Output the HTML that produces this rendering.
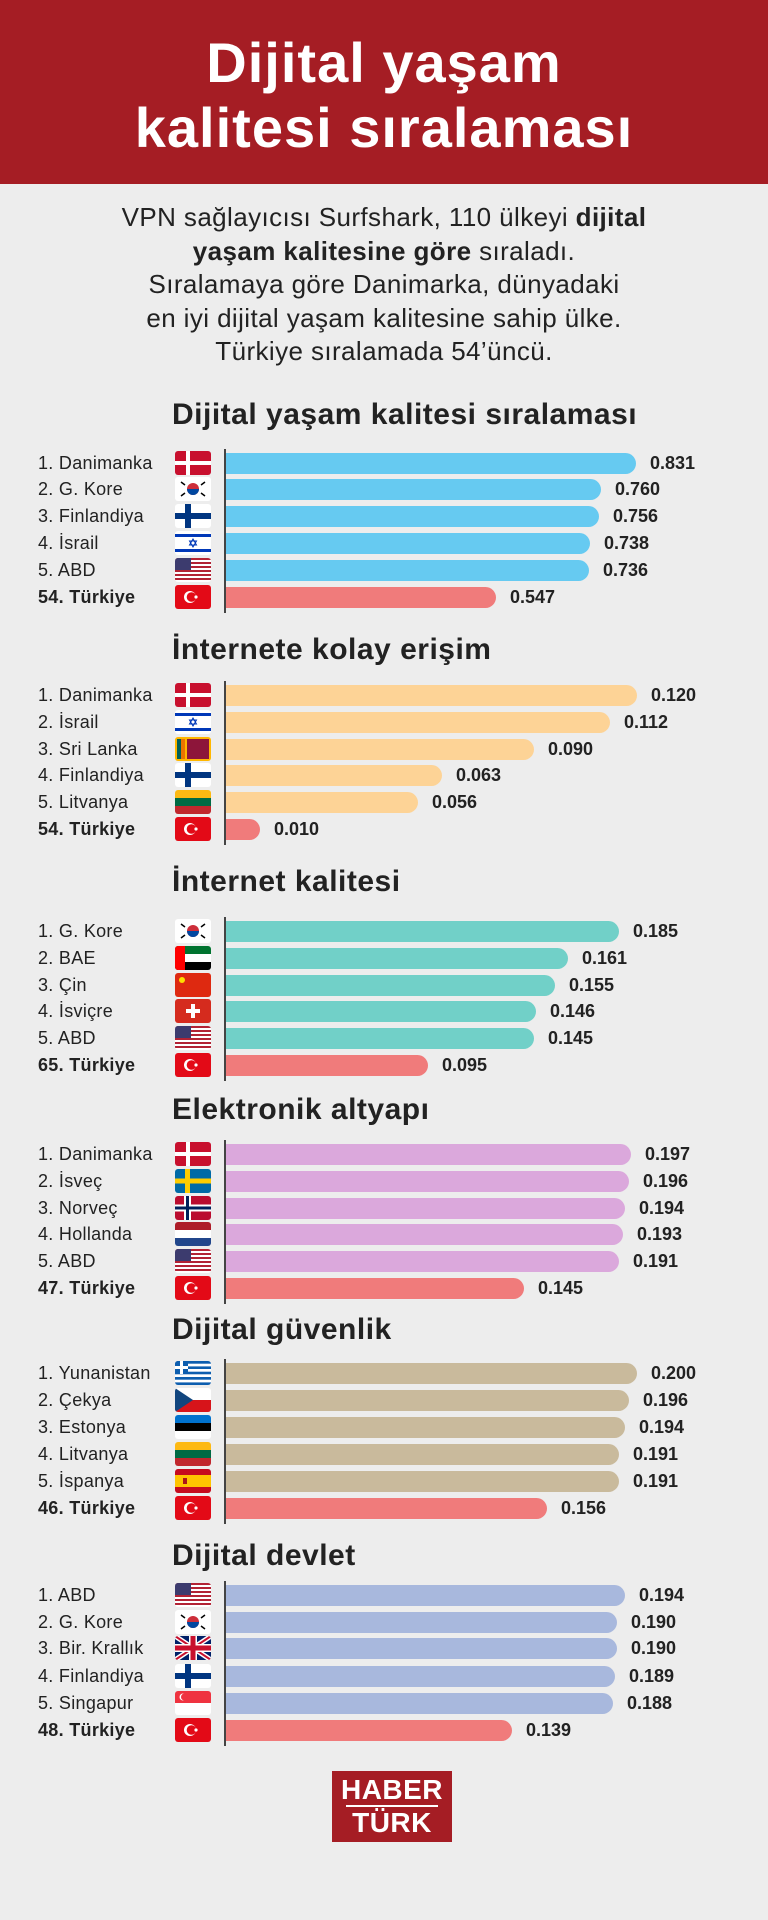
<!DOCTYPE html>
<html><head><meta charset="utf-8">
<style>
*{margin:0;padding:0;box-sizing:border-box}
body{width:768px;height:1920px;background:#ededed;font-family:"Liberation Sans",sans-serif;position:relative;overflow:hidden;color:#222}
.hdr{position:absolute;left:0;top:0;width:768px;height:184px;background:#a51d24;color:#fff;text-align:center;font-weight:bold;font-size:56px;line-height:65px;padding-top:30px;letter-spacing:1px}
.intro{position:absolute;left:0;top:201px;width:768px;text-align:center;font-size:26px;line-height:33.5px;color:#222;letter-spacing:0.4px}
.st{position:absolute;left:172px;font-size:30px;font-weight:bold;color:#222;letter-spacing:0.5px}
.lbl{position:absolute;left:38px;font-size:18px;color:#222;height:24px;line-height:24px;letter-spacing:0.3px}
.lbl.b{font-weight:bold}
.flag{position:absolute;left:175px;width:36px;height:24px;border-radius:3px;overflow:hidden}
.flag svg{display:block}
.bar{position:absolute;left:226px;height:21px;border-radius:0 11px 11px 0}
.val{position:absolute;font-size:18px;font-weight:bold;color:#222;height:24px;line-height:24px}
.axis{position:absolute;left:224px;width:2px;background:#444}
.logo{position:absolute;left:332px;top:1771px;width:120px;height:71px;background:#a51d24;color:#fff;font-weight:bold;text-align:center;font-size:28px;line-height:28px;padding-top:5px;letter-spacing:0.5px}
.logo .l{width:92px;height:2px;background:#fff;margin:1px auto 2px}
</style></head><body>
<div class="hdr">Dijital yaşam<br>kalitesi sıralaması</div>
<div class="intro">VPN sağlayıcısı Surfshark, 110 ülkeyi <b>dijital<br>yaşam kalitesine göre</b> sıraladı.<br>Sıralamaya göre Danimarka, dünyadaki<br>en iyi dijital yaşam kalitesine sahip ülke.<br>Türkiye sıralamada 54’üncü.</div>
<div id="c"></div>
<div class="logo">HABER<div class="l"></div>TÜRK</div>
<script>
const F={
dk:'<rect width="36" height="24" fill="#c8102e"/><rect x="11" width="4" height="24" fill="#fff"/><rect y="10" width="36" height="4" fill="#fff"/>',
kr:'<rect width="36" height="24" fill="#fff"/><circle cx="18" cy="12" r="6" fill="#cd2e3a"/><path d="M12 12a6 6 0 0 0 12 0z" fill="#0047a0"/><g stroke="#000" stroke-width="1.5"><path d="M6 5l4 3M26 16l4 3M26 8l4-3M6 19l4-3"/></g>',
fi:'<rect width="36" height="24" fill="#fff"/><rect x="10" width="6" height="24" fill="#003580"/><rect y="9" width="36" height="6" fill="#003580"/>',
il:'<rect width="36" height="24" fill="#fff"/><rect y="3" width="36" height="3" fill="#0038b8"/><rect y="18" width="36" height="3" fill="#0038b8"/><path d="M18 8l3.5 6h-7zM18 16l3.5-6h-7z" fill="none" stroke="#0038b8" stroke-width="1"/>',
us:'<rect width="36" height="24" fill="#fff"/><g fill="#b22234"><rect y="0" width="36" height="2"/><rect y="4" width="36" height="2"/><rect y="8" width="36" height="2"/><rect y="12" width="36" height="2"/><rect y="16" width="36" height="2"/><rect y="20" width="36" height="2"/></g><rect width="16" height="12" fill="#3c3b6e"/>',
tr:'<rect width="36" height="24" fill="#e30a17"/><circle cx="15" cy="12" r="6" fill="#fff"/><circle cx="16.5" cy="12" r="4.8" fill="#e30a17"/><circle cx="21" cy="12" r="1.6" fill="#fff"/>',
lk:'<rect width="36" height="24" fill="#ffb700"/><rect x="2" y="2" width="4" height="20" fill="#005f56"/><rect x="6" y="2" width="4" height="20" fill="#eb7400"/><rect x="12" y="2" width="22" height="20" fill="#8d153a"/>',
lt:'<rect width="36" height="8" fill="#fdb913"/><rect y="8" width="36" height="8" fill="#006a44"/><rect y="16" width="36" height="8" fill="#c1272d"/>',
ae:'<rect width="36" height="8" fill="#00732f"/><rect y="8" width="36" height="8" fill="#fff"/><rect y="16" width="36" height="8" fill="#000"/><rect width="10" height="24" fill="#ff0000"/>',
cn:'<rect width="36" height="24" fill="#de2910"/><circle cx="7" cy="7" r="3" fill="#ffde00"/>',
ch:'<rect width="36" height="24" fill="#d52b1e"/><rect x="16" y="5" width="4" height="14" fill="#fff"/><rect x="11" y="10" width="14" height="4" fill="#fff"/>',
se:'<rect width="36" height="24" fill="#006aa7"/><rect x="10" width="5" height="24" fill="#fecc00"/><rect y="9.5" width="36" height="5" fill="#fecc00"/>',
no:'<rect width="36" height="24" fill="#ba0c2f"/><rect x="9" width="7" height="24" fill="#fff"/><rect y="8.5" width="36" height="7" fill="#fff"/><rect x="11" width="3" height="24" fill="#00205b"/><rect y="10.5" width="36" height="3" fill="#00205b"/>',
nl:'<rect width="36" height="8" fill="#ae1c28"/><rect y="8" width="36" height="8" fill="#fff"/><rect y="16" width="36" height="8" fill="#21468b"/>',
gr:'<rect width="36" height="24" fill="#0d5eaf"/><g fill="#fff"><rect y="2.7" width="36" height="2.7"/><rect y="8" width="36" height="2.7"/><rect y="13.3" width="36" height="2.7"/><rect y="18.7" width="36" height="2.7"/></g><rect width="13" height="13" fill="#0d5eaf"/><rect x="5" width="3" height="13" fill="#fff"/><rect y="5" width="13" height="3" fill="#fff"/>',
cz:'<rect width="36" height="12" fill="#fff"/><rect y="12" width="36" height="12" fill="#d7141a"/><path d="M0 0L18 12L0 24z" fill="#11457e"/>',
ee:'<rect width="36" height="8" fill="#0072ce"/><rect y="8" width="36" height="8" fill="#000"/><rect y="16" width="36" height="8" fill="#fff"/>',
es:'<rect width="36" height="24" fill="#c60b1e"/><rect y="6" width="36" height="12" fill="#ffc400"/><rect x="8" y="9" width="4" height="6" fill="#ad1519"/>',
gb:'<rect width="36" height="24" fill="#012169"/><path d="M0 0L36 24M36 0L0 24" stroke="#fff" stroke-width="5"/><path d="M0 0L36 24M36 0L0 24" stroke="#c8102e" stroke-width="2"/><rect x="14" width="8" height="24" fill="#fff"/><rect y="8" width="36" height="8" fill="#fff"/><rect x="15.5" width="5" height="24" fill="#c8102e"/><rect y="9.5" width="36" height="5" fill="#c8102e"/>',
sg:'<rect width="36" height="12" fill="#ef3340"/><rect y="12" width="36" height="12" fill="#fff"/><circle cx="8" cy="6" r="3.5" fill="#fff"/><circle cx="9.5" cy="6" r="3.5" fill="#ef3340"/>'
};
const S=[
{t:'Dijital yaşam kalitesi sıralaması',ty:417,y:[463,489,516,543,570,597],k:493.5,c:'#66caf1',r:[['1. Danimanka','dk',0.831],['2. G. Kore','kr',0.760],['3. Finlandiya','fi',0.756],['4. İsrail','il',0.738],['5. ABD','us',0.736],['54. Türkiye','tr',0.547]]},
{t:'İnternete kolay erişim',ty:652,y:[695,722,749,775,802,829],k:3425,c:'#fdd396',r:[['1. Danimanka','dk','0.120'],['2. İsrail','il',0.112],['3. Sri Lanka','lk','0.090'],['4. Finlandiya','fi',0.063],['5. Litvanya','lt',0.056],['54. Türkiye','tr','0.010']]},
{t:'İnternet kalitesi',ty:884,y:[931,958,985,1011,1038,1065],k:2124,c:'#71d0c8',r:[['1. G. Kore','kr',0.185],['2. BAE','ae',0.161],['3. Çin','cn',0.155],['4. İsviçre','ch',0.146],['5. ABD','us',0.145],['65. Türkiye','tr',0.095]]},
{t:'Elektronik altyapı',ty:1112,y:[1154,1181,1208,1234,1261,1288],k:2056,c:'#dba8dc',r:[['1. Danimanka','dk',0.197],['2. İsveç','se',0.196],['3. Norveç','no',0.194],['4. Hollanda','nl',0.193],['5. ABD','us',0.191],['47. Türkiye','tr',0.145]]},
{t:'Dijital güvenlik',ty:1332,y:[1373,1400,1427,1454,1481,1508],k:2055,c:'#c9ba9c',r:[['1. Yunanistan','gr','0.200'],['2. Çekya','cz',0.196],['3. Estonya','ee',0.194],['4. Litvanya','lt',0.191],['5. İspanya','es',0.191],['46. Türkiye','tr',0.156]]},
{t:'Dijital devlet',ty:1558,y:[1595,1622,1648,1676,1703,1730],k:2057,c:'#a8b8dd',r:[['1. ABD','us',0.194],['2. G. Kore','kr','0.190'],['3. Bir. Krallık','gb','0.190'],['4. Finlandiya','fi',0.189],['5. Singapur','sg',0.188],['48. Türkiye','tr',0.139]]}
];
let h='';
S.forEach(s=>{
h+=`<div class="st" style="top:${s.ty-19}px">${s.t}</div>`;
h+=`<div class="axis" style="top:${s.y[0]-14}px;height:${s.y[5]-s.y[0]+30}px"></div>`;
s.r.forEach((r,i)=>{const y=s.y[i];const v=parseFloat(r[2]);const w=Math.round(v*s.k);const tr=i==5;
h+=`<div class="lbl${tr?' b':''}" style="top:${y-12}px">${r[0]}</div>`;
h+=`<div class="flag" style="top:${y-12}px"><svg width="36" height="24" viewBox="0 0 36 24">${F[r[1]]}</svg></div>`;
h+=`<div class="bar" style="top:${y-10}px;width:${w}px;background:${tr?'#f07b7b':s.c}"></div>`;
h+=`<div class="val" style="top:${y-12}px;left:${226+w+14}px">${typeof r[2]=='string'?r[2]:r[2].toFixed(3)}</div>`;
});});
document.getElementById('c').innerHTML=h;
</script>
</body></html>
